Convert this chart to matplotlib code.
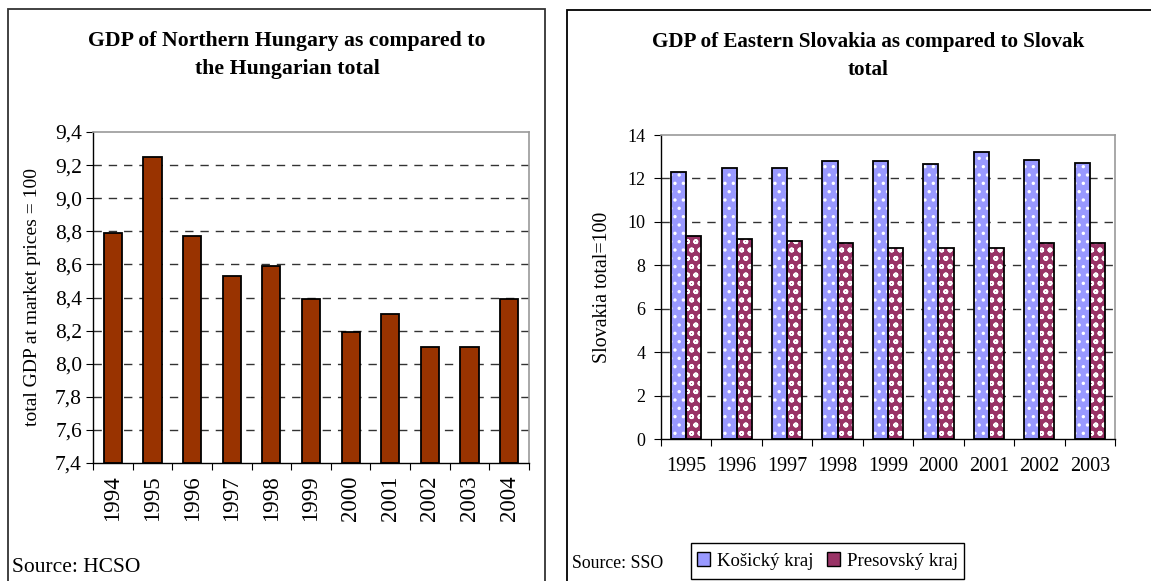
import matplotlib
matplotlib.use("Agg")
import matplotlib.pyplot as plt
from matplotlib.patches import Rectangle, Patch
import numpy as np

# ---- data ----
hu_years = ["1994", "1995", "1996", "1997", "1998", "1999", "2000", "2001", "2002", "2003", "2004"]
hu_values = [8.79, 9.25, 8.77, 8.53, 8.59, 8.39, 8.19, 8.30, 8.10, 8.10, 8.39]
hu_yticks = [7.4, 7.6, 7.8, 8.0, 8.2, 8.4, 8.6, 8.8, 9.0, 9.2, 9.4]
hu_ytick_labels = ["7,4", "7,6", "7,8", "8,0", "8,2", "8,4", "8,6", "8,8", "9,0", "9,2", "9,4"]

sk_years = ["1995", "1996", "1997", "1998", "1999", "2000", "2001", "2002", "2003"]
kosicky = [12.30, 12.46, 12.46, 12.79, 12.79, 12.65, 13.20, 12.86, 12.70]
presovsky = [9.36, 9.21, 9.12, 9.03, 8.80, 8.80, 8.80, 9.03, 9.03]
sk_yticks = [0, 2, 4, 6, 8, 10, 12, 14]

plt.rcParams['font.family'] = ['Liberation Serif', 'DejaVu Serif']
plt.rcParams['hatch.linewidth'] = 1.2

W, H = 1151, 581
fig = plt.figure(figsize=(W / 100, H / 100), dpi=100)

# outer frames
fig.patches.append(Rectangle((8 / W, -0.02), 537 / W, (H - 9) / H + 0.02, transform=fig.transFigure,
                             fill=False, edgecolor='#333333', linewidth=1.3))
fig.patches.append(Rectangle((567 / W, -0.02), 0.6, (H - 10) / H + 0.02, transform=fig.transFigure,
                             fill=False, edgecolor='black', linewidth=1.3))

def style_axes(ax):
    for s in ['top', 'right']:
        ax.spines[s].set_color('#999999')
        ax.spines[s].set_linewidth(1.2)
    for s in ['left', 'bottom']:
        ax.spines[s].set_color('black')
        ax.spines[s].set_linewidth(1.0)
    ax.set_axisbelow(True)

# ---- left chart ----
ax1 = fig.add_axes([93 / W, 1 - 463 / H, (529 - 93) / W, (463 - 132) / H])
x1 = np.arange(len(hu_years))
ax1.bar(x1, [v - hu_yticks[0] for v in hu_values], bottom=hu_yticks[0], width=0.46,
        color='#993300', edgecolor='black', linewidth=1.3)
ax1.set_xlim(-0.5, len(hu_years) - 0.5)
ax1.set_ylim(hu_yticks[0], hu_yticks[-1])
ax1.set_yticks(hu_yticks)
ax1.set_yticklabels(hu_ytick_labels, fontsize=15.5)
ax1.set_xticks(np.arange(len(hu_years) + 1) - 0.5)
ax1.set_xticklabels([])
ax1.set_xticks(x1, minor=True)
ax1.set_xticklabels(hu_years, minor=True, rotation=90, fontsize=16.5)
ax1.tick_params(axis='x', which='minor', length=0, pad=9)
ax1.tick_params(axis='x', which='major', length=5, direction='out')
ax1.tick_params(axis='y', length=5, direction='out', pad=3)
for v in hu_yticks[1:-1]:
    ax1.axhline(v, color='#333333', linestyle=(0, (6, 5)), linewidth=1.0, zorder=0.5)
style_axes(ax1)
ax1.set_ylabel("total GDP at market prices = 100", fontsize=14, labelpad=10)
fig.text(287 / W, 1 - 41 / H, "GDP of Northern Hungary as compared to", ha='center', va='center',
         fontsize=15.7, fontweight='bold')
fig.text(287 / W, 1 - 69 / H, "the Hungarian total", ha='center', va='center',
         fontsize=15.7, fontweight='bold')
fig.text(12 / W, 1 - 567 / H, "Source: HCSO", ha='left', va='center', fontsize=15.5)

# ---- right chart ----
ax2 = fig.add_axes([661 / W, 1 - 439 / H, (1115 - 661) / W, (439 - 135) / H])
x2 = np.arange(len(sk_years))
bw = 0.3
# fills with white hatch
ax2.bar(x2 - bw / 2, kosicky, width=bw, color='#9999FF', edgecolor='white', hatch='..', linewidth=0)
ax2.bar(x2 + bw / 2, presovsky, width=bw, color='#993366', edgecolor='white', hatch='oo', linewidth=0)
# outlines
ax2.bar(x2 - bw / 2, kosicky, width=bw, facecolor='none', edgecolor='black', linewidth=1.3)
ax2.bar(x2 + bw / 2, presovsky, width=bw, facecolor='none', edgecolor='black', linewidth=1.3)
ax2.set_xlim(-0.5, len(sk_years) - 0.5)
ax2.set_ylim(sk_yticks[0], sk_yticks[-1])
ax2.set_yticks(sk_yticks)
ax2.set_yticklabels([str(v) for v in sk_yticks], fontsize=13)
ax2.set_xticks(np.arange(len(sk_years) + 1) - 0.5)
ax2.set_xticklabels([])
ax2.set_xticks(x2, minor=True)
ax2.set_xticklabels(sk_years, minor=True, fontsize=14.5)
ax2.tick_params(axis='x', which='minor', length=0, pad=13)
ax2.tick_params(axis='x', which='major', length=5, direction='out')
ax2.tick_params(axis='y', length=5, direction='out', pad=6)
for v in sk_yticks[1:-1]:
    ax2.axhline(v, color='#333333', linestyle=(0, (6, 5)), linewidth=1.0, zorder=0.5)
style_axes(ax2)
ax2.set_ylabel("Slovakia total=100", fontsize=14.3, labelpad=11)
fig.text(868 / W, 1 - 42 / H, "GDP of Eastern Slovakia as compared to Slovak", ha='center', va='center',
         fontsize=15.2, fontweight='bold')
fig.text(868 / W, 1 - 70 / H, "total", ha='center', va='center', fontsize=15.2, fontweight='bold')
fig.text(572 / W, 1 - 564 / H, "Source: SSO", ha='left', va='center', fontsize=12.8)

fig.patches.append(Rectangle((691 / W, 1 - 579 / H), (964 - 691) / W, 36 / H, transform=fig.transFigure,
                             fill=False, edgecolor='black', linewidth=1.0))
handles = [Patch(facecolor='#9999FF', edgecolor='black', linewidth=1.0),
           Patch(facecolor='#993366', edgecolor='black', linewidth=1.0)]
leg = fig.legend(handles, ["Košický kraj", "Presovský kraj"], ncol=2, loc='center',
                 bbox_to_anchor=(827.5 / W, 1 - 561 / H), fontsize=13.5, frameon=False,
                 handlelength=0.7, handleheight=0.7, handletextpad=0.4,
                 columnspacing=0.7, borderpad=0.0, borderaxespad=0)

fig.savefig("out.png", dpi=100)
